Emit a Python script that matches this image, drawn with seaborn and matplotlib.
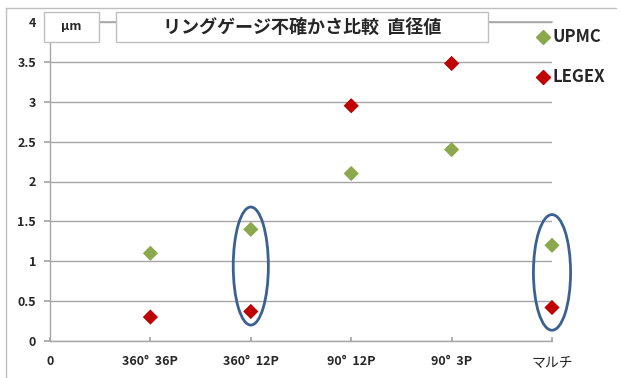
import matplotlib
matplotlib.use("Agg")
import matplotlib.pyplot as plt
from matplotlib.patches import Ellipse, Rectangle
from matplotlib.lines import Line2D
import pandas as pd
import seaborn as sns

categories = ["360°  36P", "360°  12P", "90°  12P", "90°  3P", "マルチ"]
upmc = [1.1, 1.4, 2.1, 2.4, 1.2]
legex = [0.3, 0.37, 2.95, 3.48, 0.42]
series = ["UPMC", "LEGEX"]
colors = {"UPMC": "#8BA84C", "LEGEX": "#C00000"}
title = "リングゲージ不確かさ比較  直径値"
unit = "μm"

sns.set_theme(style="white")
plt.rcParams["font.family"] = ["Noto Sans CJK JP", "DejaVu Sans"]

W, H = 621, 378
fig = plt.figure(figsize=(W / 100, H / 100), dpi=100)


def fx(px):
    return px / W


def fy(py):
    return 1 - py / H


ax = fig.add_axes([fx(50), fy(341), fx(552) - fx(50), fy(22) - fy(341)])

xs = list(range(1, len(categories) + 1))
df = pd.DataFrame({
    "x": xs * 2,
    "y": upmc + legex,
    "s": ["UPMC"] * len(upmc) + ["LEGEX"] * len(legex),
})

sns.scatterplot(data=df, x="x", y="y", hue="s", hue_order=series, palette=colors,
                marker="D", s=60, edgecolor="none", legend=False, ax=ax,
                clip_on=False, zorder=4)

ax.set_xlim(0, 5)
ax.set_ylim(0, 4)
ax.set_xlabel("")
ax.set_ylabel("")

# y grid
yt = [i * 0.5 for i in range(9)]
ax.set_yticks(yt)
ax.set_yticklabels(["0", "0.5", "1", "1.5", "2", "2.5", "3", "3.5", "4"],
                   fontsize=9, fontweight="bold")
ax.yaxis.grid(True, color="#A6A6A6", lw=1)
ax.set_axisbelow(True)

ax.set_xticks([0] + xs)
labels = ax.set_xticklabels(["0"] + categories, fontsize=9, fontweight="bold")
labels[-1].set_fontweight("normal")
labels[-1].set_fontsize(10)

for side in ["top", "right"]:
    ax.spines[side].set_visible(False)
for side in ["left", "bottom"]:
    ax.spines[side].set_color("#A6A6A6")
    ax.spines[side].set_linewidth(1)
ax.tick_params(axis="y", left=True, length=4, color="#A6A6A6", pad=6)
ax.tick_params(axis="x", bottom=True, direction="in", length=3, color="#A6A6A6", pad=10)

# top gridline (drawn in axes coords at y=4 so it is not clipped away)
top = Line2D([0, 1], [1, 1], transform=ax.transAxes, color="#A6A6A6", lw=1.2,
             clip_on=False, zorder=1)
fig.add_artist(top)

# ellipses around the compared pairs
for cx, cy, w, h in [(2.0, 0.94, 0.35, 1.48), (5.0, 0.86, 0.37, 1.45)]:
    ax.add_patch(Ellipse((cx, cy), w, h, fill=False, ec="#3B6190", lw=2,
                         clip_on=False, zorder=5))

# outer chart frame
fig.add_artist(Line2D([fx(6), fx(6)], [fy(8), 0], color="#BFBFBF", lw=1))
fig.add_artist(Line2D([fx(6), fx(616)], [fy(8), fy(8)], color="#BFBFBF", lw=1))

# unit and title boxes
for x0, x1 in [(44, 99), (116, 488)]:
    fig.add_artist(Rectangle((fx(x0), fy(42)), fx(x1) - fx(x0), fy(12) - fy(42),
                             fc="white", ec="#BFBFBF", lw=1, zorder=10))
fig.text(fx(71), fy(27), unit, ha="center", va="center", fontsize=9,
         fontweight="bold", zorder=11)
fig.text(fx(302), fy(27), title, ha="center", va="center", fontsize=13,
         fontweight="bold", zorder=11)

# legend
for i, name in enumerate(series):
    yy = 37 + 40 * i
    fig.add_artist(Line2D([fx(543)], [fy(yy)], marker="D", ms=7, color=colors[name],
                          ls="none", zorder=11))
    fig.text(fx(552), fy(yy), name, ha="left", va="center", fontsize=12,
             fontweight="bold", zorder=11)

fig.savefig("out.png", dpi=100)
